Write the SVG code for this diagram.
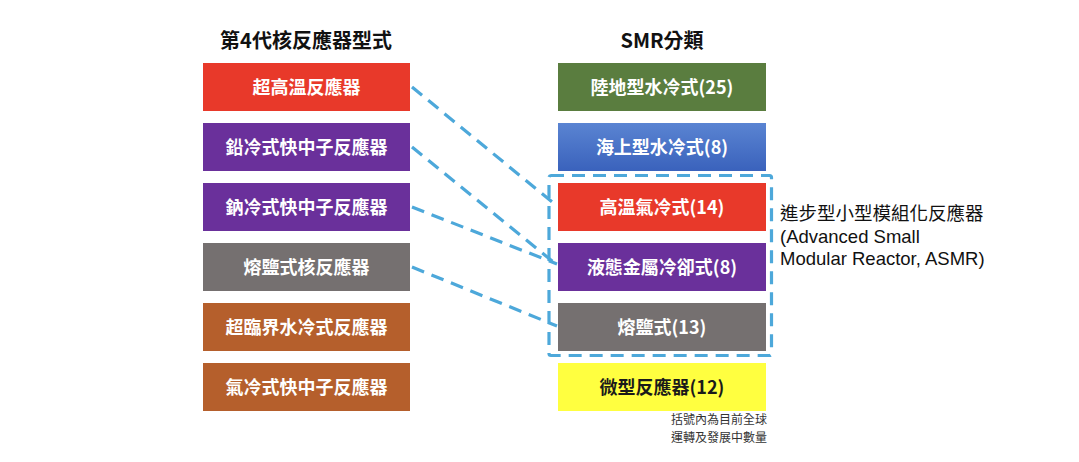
<svg xmlns="http://www.w3.org/2000/svg" width="1079" height="462" viewBox="0 0 1079 462">
<defs>
<linearGradient id="blueGrad" x1="0" y1="0" x2="0" y2="1">
<stop offset="0" stop-color="#5A84D2"/>
<stop offset="1" stop-color="#3A62BC"/>
</linearGradient>
<style>
.t{font-family:"Noto Sans CJK TC","Noto Sans",sans-serif;}
.title{font-size:20px;font-weight:700;fill:#111;text-anchor:middle;}
.lbl{font-size:18px;font-weight:700;fill:#fff;text-anchor:middle;}
.dark{fill:#1a1a1a;}
.conn{fill:none;stroke:#4DA8DA;stroke-width:3.2;stroke-dasharray:13 8;}
.side{font-size:18.5px;fill:#111;}
.en{font-family:"Liberation Sans","Noto Sans",sans-serif;font-size:18.5px;fill:#111;}
.note{font-size:12px;fill:#333;text-anchor:middle;}
</style>
</defs>
<rect width="1079" height="462" fill="#fff"/>
<text class="t title" x="306" y="48">第4代核反應器型式</text>
<text class="t title" x="662" y="48">SMR分類</text>

<g id="gen4-vhtr"><rect x="203" y="63" width="207" height="48" fill="#E8392A"/><text class="t lbl" x="306.5" y="93.5">超高溫反應器</text></g>
<g id="gen4-lfr"><rect x="203" y="123" width="207" height="48" fill="#6A309B"/><text class="t lbl" x="306.5" y="153.5">鉛冷式快中子反應器</text></g>
<g id="gen4-sfr"><rect x="203" y="183" width="207" height="48" fill="#6A309B"/><text class="t lbl" x="306.5" y="213.5">鈉冷式快中子反應器</text></g>
<g id="gen4-msr"><rect x="203" y="243" width="207" height="48" fill="#757070"/><text class="t lbl" x="306.5" y="273.5">熔鹽式核反應器</text></g>
<g id="gen4-scwr"><rect x="203" y="303" width="207" height="48" fill="#B55F2C"/><text class="t lbl" x="306.5" y="333.5">超臨界水冷式反應器</text></g>
<g id="gen4-gfr"><rect x="203" y="363" width="207" height="48" fill="#B55F2C"/><text class="t lbl" x="306.5" y="393.5">氣冷式快中子反應器</text></g>

<g id="smr-land"><rect x="558" y="63" width="208" height="48" fill="#5A7D3F"/><text class="t lbl" x="662" y="93.5">陸地型水冷式(25)</text></g>
<g id="smr-sea"><rect x="558" y="123" width="208" height="48" fill="url(#blueGrad)"/><text class="t lbl" x="662" y="153.5">海上型水冷式(8)</text></g>
<g id="smr-htgr"><rect x="558" y="183" width="208" height="48" fill="#E8392A"/><text class="t lbl" x="662" y="213.5">高溫氣冷式(14)</text></g>
<g id="smr-lmr"><rect x="558" y="243" width="208" height="48" fill="#6A309B"/><text class="t lbl" x="662" y="273.5">液態金屬冷卻式(8)</text></g>
<g id="smr-msr"><rect x="558" y="303" width="208" height="48" fill="#757070"/><text class="t lbl" x="662" y="333.5">熔鹽式(13)</text></g>
<g id="smr-micro"><rect x="558" y="363" width="208" height="48" fill="#FFFF40"/><text class="t lbl dark" x="662" y="393.5">微型反應器(12)</text></g>

<g id="asmr-group">
<rect x="549" y="175.5" width="222.5" height="180" fill="none" stroke="#4DA8DA" stroke-width="3.2" stroke-dasharray="13 8" rx="2"/>
<text class="t side" x="780" y="219.5">進步型小型模組化反應器</text>
<text class="en" x="780" y="243">(Advanced Small</text>
<text class="en" x="780" y="265">Modular Reactor, ASMR)</text>
</g>

<g id="connectors">
<line class="conn" x1="412" y1="87" x2="557" y2="206"/>
<line class="conn" x1="412" y1="147" x2="557" y2="265"/>
<line class="conn" x1="412" y1="207" x2="557" y2="264"/>
<line class="conn" x1="412" y1="267" x2="557" y2="326"/>
</g>

<g id="note">
<text class="t note" x="719" y="424">括號內為目前全球</text>
<text class="t note" x="719" y="441.5">運轉及發展中數量</text>
</g>
</svg>
